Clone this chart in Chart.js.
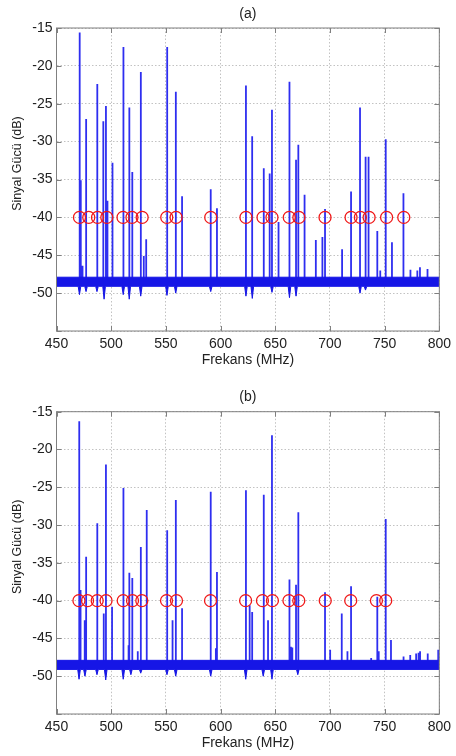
<!DOCTYPE html>
<html>
<head>
<meta charset="utf-8">
<script src="https://cdn.jsdelivr.net/npm/chart.js@4/dist/chart.umd.min.js"></script>
<style>
  html, body { margin: 0; padding: 0; background: #ffffff; }
  .panel { position: absolute; left: 0; width: 456px; height: 378px; }
  #wrapA { top: 0; }
  #wrapB { top: 378px; }
</style>
</head>
<body>
<div id="wrapA" class="panel"><canvas id="chartA"></canvas></div>
<div id="wrapB" class="panel"><canvas id="chartB"></canvas></div>
<script>
// ---- spectrum (a): carrier frequencies (MHz) and peak levels (dB) ----
const FREQ_A = [471.2, 472.2, 473.8, 477.1, 487.3, 492.8, 495.2, 496.6, 501.2, 511.2,
                516.6, 519.3, 527.1, 529.8, 532.0, 551.2, 559.1, 564.8, 591.0, 596.7,
                623.2, 628.9, 639.5, 644.9, 647.0, 653.0, 663.0, 669.0, 671.1, 676.8,
                687.1, 693.1, 695.5, 711.1, 719.3, 727.5, 732.6, 735.3, 743.3, 746.0,
                751.0, 756.7, 767.2, 773.6, 779.9, 782.3, 789.2];
const PEAK_A = [-15.6, -35.1, -46.4, -27.0, -22.4, -27.3, -25.3, -37.8, -32.8, -17.5,
                -25.5, -34.0, -20.8, -45.1, -42.9, -17.5, -23.4, -37.2, -36.3, -38.8,
                -22.6, -29.3, -33.5, -34.2, -25.8, -40.6, -22.1, -32.4, -30.4, -37.0,
                -43.0, -42.6, -38.9, -44.2, -36.6, -25.5, -32.0, -32.0, -41.8, -47.0,
                -29.7, -43.3, -36.8, -46.9, -47.0, -46.6, -46.8];
// notches below the noise floor next to strong carriers
const DIP_FREQ_A = [471.0, 477.0, 487.0, 493.5, 511.0, 516.5, 527.0, 551.0, 559.0, 591.0,
                    623.2, 629.0, 647.0, 663.0, 669.0, 727.5, 732.5];
const DIP_A = [-50.2, -49.8, -49.8, -50.8, -50.2, -50.8, -50.4, -50.3, -50.0, -49.8,
               -50.4, -50.7, -49.9, -50.6, -50.4, -50.0, -49.6];
// marked channel centres
const MARK_A = [471.0, 479.5, 487.5, 496.0, 510.8, 519.0, 528.3, 550.8, 559.3, 591.0,
                623.2, 638.8, 647.0, 662.8, 671.6, 695.5, 719.3, 727.8, 735.8, 751.8, 767.5];

// ---- spectrum (b) ----
const FREQ_B = [470.8, 472.0, 475.8, 477.1, 487.3, 493.2, 495.2, 500.8, 511.2, 515.9,
                516.6, 519.3, 524.3, 527.1, 532.5, 551.2, 556.1, 559.1, 564.8, 591.0,
                595.7, 596.7, 623.2, 626.6, 628.9, 639.5, 643.4, 647.0, 663.0, 664.3,
                665.6, 669.0, 671.1, 695.5, 700.2, 710.8, 716.0, 719.3, 737.7, 743.3,
                744.6, 751.0, 755.8, 767.3, 773.4, 778.8, 781.0, 782.4, 789.4, 799.0];
const PEAK_B = [-16.25, -38.6, -42.6, -34.2, -29.75, -41.7, -22.0, -40.8, -25.1, -45.9,
                -36.3, -37.0, -46.7, -32.9, -28.0, -30.7, -42.6, -26.7, -41.0, -25.6,
                -46.3, -36.2, -25.4, -40.6, -41.5, -26.0, -42.6, -18.1, -37.2, -46.1,
                -46.2, -37.9, -28.3, -38.9, -46.5, -41.7, -46.7, -38.1, -47.6, -39.5,
                -46.7, -29.2, -45.2, -47.4, -47.2, -47.0, -46.9, -46.7, -47.0, -46.5];
const DIP_FREQ_B = [470.6, 476.0, 487.0, 495.0, 511.0, 518.0, 527.0, 551.0, 559.0, 591.0,
                    623.0, 639.0, 647.0, 670.6];
const DIP_B = [-50.4, -50.0, -49.8, -50.5, -50.4, -49.8, -49.6, -49.8, -50.0, -50.0,
               -50.4, -50.0, -50.4, -49.8];
const MARK_B = [470.5, 478.4, 487.2, 495.3, 511.0, 519.5, 528.0, 550.6, 559.7, 590.8,
                622.9, 638.3, 647.4, 662.5, 671.5, 695.7, 719.0, 742.5, 751.0];

// noise floor band and marker level (dB)
const FLOOR_TOP = -47.9;
const FLOOR_MID = -48.5;
const FLOOR_BOTTOM = -49.1;
const MARK_LEVEL = -40;

// axis ranges and tick spacing
const X_RANGE = [450, 800];
const X_STEP = 50;
const Y_RANGE = [-55, -15];
const Y_STEP = 5;

const FONT = '"Liberation Sans", Arial, Helvetica, sans-serif';
const TEXT = '#222222';
const TRACE = '#2e2ef0';
const FLOOR = '#1616e6';

// each carrier is a vertical stroke rising out of the floor
function spikeTrace(freqs, peaks) {
  const pts = [];
  freqs.forEach((f, i) => {
    pts.push({x: f, y: FLOOR_MID}, {x: f, y: peaks[i]}, {x: f, y: FLOOR_MID});
  });
  return pts;
}
function upperEdge() {
  return [{x: X_RANGE[0], y: FLOOR_TOP}, {x: X_RANGE[1], y: FLOOR_TOP}];
}
function lowerEdge(freqs, dips) {
  const pts = [{x: X_RANGE[0], y: FLOOR_BOTTOM}];
  freqs.forEach((f, i) => {
    pts.push({x: f - 1.2, y: FLOOR_BOTTOM}, {x: f, y: dips[i]}, {x: f + 1.2, y: FLOOR_BOTTOM});
  });
  pts.push({x: X_RANGE[1], y: FLOOR_BOTTOM});
  return pts;
}
function markers(freqs) {
  return freqs.map(f => ({x: f, y: MARK_LEVEL}));
}

// box around the plot, inward tick marks and the vertical axis label
const framePlugin = {
  id: 'frame',
  afterDraw(chart, args, opts) {
    const {ctx, chartArea: a} = chart;
    const xs = chart.scales.x, ys = chart.scales.y;
    ctx.save();
    ctx.strokeStyle = '#808080';
    ctx.lineWidth = 1;
    ctx.strokeRect(a.left, a.top, a.right - a.left, a.bottom - a.top);
    const len = 5;
    ctx.beginPath();
    xs.ticks.forEach(t => {
      const px = Math.round(xs.getPixelForValue(t.value)) + 0.5;
      ctx.moveTo(px, a.bottom); ctx.lineTo(px, a.bottom - len);
      ctx.moveTo(px, a.top); ctx.lineTo(px, a.top + len);
    });
    ys.ticks.forEach(t => {
      const py = Math.round(ys.getPixelForValue(t.value)) + 0.5;
      ctx.moveTo(a.left, py); ctx.lineTo(a.left + len, py);
      ctx.moveTo(a.right, py); ctx.lineTo(a.right - len, py);
    });
    ctx.stroke();
    ctx.translate(18, (a.top + a.bottom) / 2 - 16);
    ctx.rotate(-Math.PI / 2);
    ctx.font = '12.5px ' + FONT;
    ctx.fillStyle = TEXT;
    ctx.textAlign = 'center';
    ctx.textBaseline = 'middle';
    ctx.fillText(opts.label, 0, 0);
    ctx.restore();
  }
};

function makeChart(id, title, freqs, peaks, dipF, dips, marks, lay) {
  return new Chart(document.getElementById(id), {
    type: 'line',
    data: {
      datasets: [
        {
          data: markers(marks), showLine: false,
          pointStyle: 'circle', pointRadius: 6, pointHoverRadius: 6,
          pointBorderColor: '#f01818', pointBackgroundColor: 'rgba(0,0,0,0)',
          pointBorderWidth: 1.3, borderColor: '#f01818'
        },
        {
          data: upperEdge(), borderColor: FLOOR, borderWidth: 1,
          backgroundColor: FLOOR, fill: '+1', pointRadius: 0, tension: 0
        },
        {
          data: lowerEdge(dipF, dips), borderColor: FLOOR, borderWidth: 1,
          fill: false, pointRadius: 0, tension: 0
        },
        {
          data: spikeTrace(freqs, peaks), borderColor: TRACE, borderWidth: 1.8,
          fill: false, pointRadius: 0, tension: 0
        }
      ]
    },
    options: {
      responsive: true,
      maintainAspectRatio: false,
      animation: false,
      events: [],
      layout: {padding: {left: 0, right: 13.3, top: 0, bottom: lay.bottom}},
      plugins: {
        legend: {display: false},
        tooltip: {enabled: false},
        title: {
          display: true, text: title, fullSize: false, color: TEXT,
          font: {family: FONT, size: 14, weight: 'normal'},
          padding: {top: lay.titleTop, bottom: lay.titleBottom}
        },
        frame: {label: 'Sinyal Gücü (dB)'}
      },
      scales: {
        x: {
          type: 'linear', min: X_RANGE[0], max: X_RANGE[1],
          ticks: {stepSize: X_STEP, color: TEXT, font: {family: FONT, size: 14}, padding: 5, maxRotation: 0},
          grid: {color: '#c2c2c2', lineWidth: 1, drawTicks: false},
          border: {display: false, dash: [1.5, 2]},
          title: {display: true, text: 'Frekans (MHz)', color: TEXT,
                  font: {family: FONT, size: 14}, padding: {top: 0, bottom: 4}},
          afterFit(s) { s.height = 41.4; }
        },
        y: {
          type: 'linear', min: Y_RANGE[0], max: Y_RANGE[1],
          ticks: {stepSize: Y_STEP, color: TEXT, font: {family: FONT, size: 14}, padding: 4,
                  callback: v => (v === Y_RANGE[0] ? '' : v)},
          grid: {color: '#c2c2c2', lineWidth: 1, drawTicks: false},
          border: {display: false, dash: [1.5, 2]},
          afterFit(s) { s.width = 56.5; }
        }
      }
    },
    plugins: [framePlugin]
  });
}

makeChart('chartA', '(a)', FREQ_A, PEAK_A, DIP_FREQ_A, DIP_A, MARK_A,
          {bottom: 5.6, titleTop: 5.6, titleBottom: 5.6});
makeChart('chartB', '(b)', FREQ_B, PEAK_B, DIP_FREQ_B, DIP_B, MARK_B,
          {bottom: 0.6, titleTop: 10.3, titleBottom: 6.6});
</script>
</body>
</html>
